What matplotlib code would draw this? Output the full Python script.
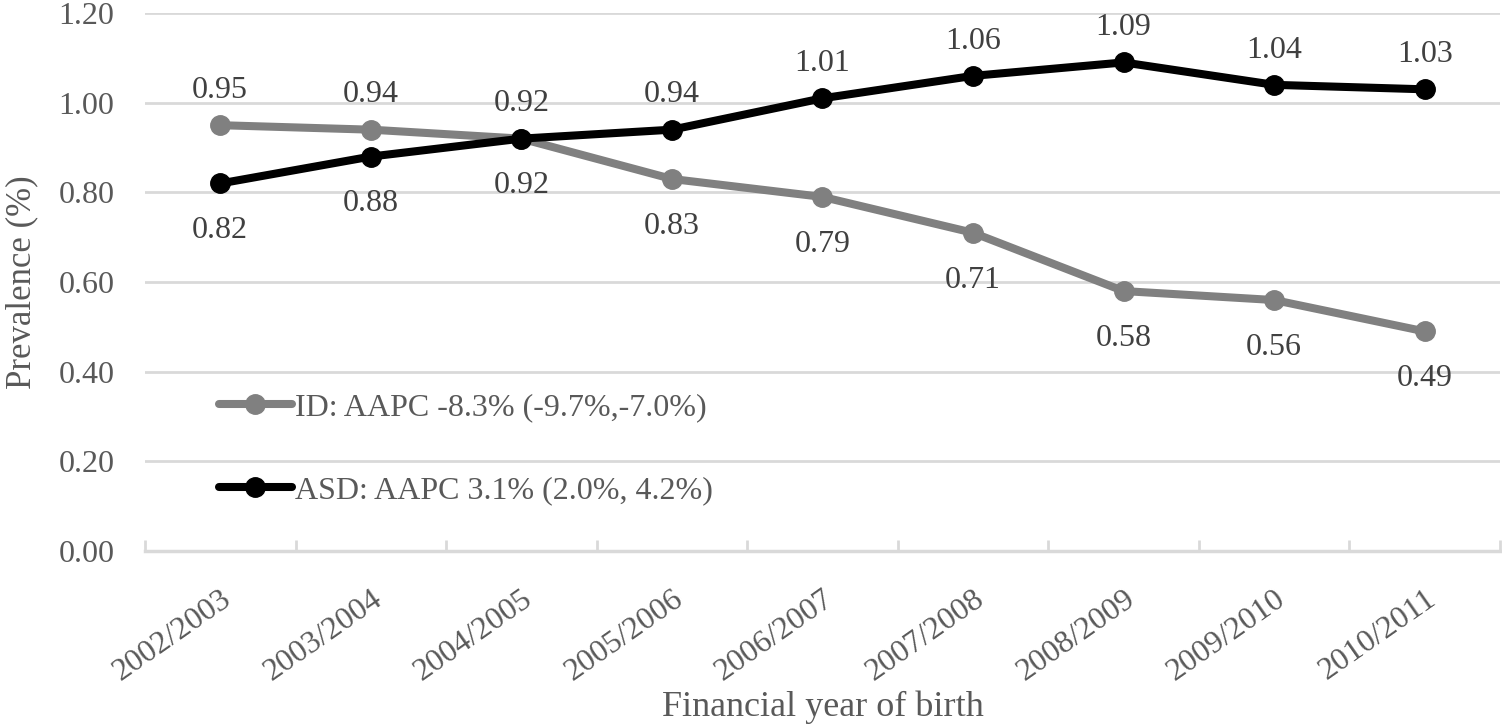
import matplotlib
matplotlib.use('Agg')
import matplotlib.pyplot as plt
import numpy as np

years = ['2002/2003', '2003/2004', '2004/2005', '2005/2006', '2006/2007',
         '2007/2008', '2008/2009', '2009/2010', '2010/2011']
id_prev = [0.95, 0.94, 0.92, 0.83, 0.79, 0.71, 0.58, 0.56, 0.49]
asd_prev = [0.82, 0.88, 0.92, 0.94, 1.01, 1.06, 1.09, 1.04, 1.03]
id_label = 'ID: AAPC -8.3% (-9.7%,-7.0%)'
asd_label = 'ASD: AAPC 3.1% (2.0%, 4.2%)'

plt.rcParams['font.family'] = ['Liberation Serif', 'DejaVu Serif']

TXT = '#595959'
GRID = '#d9d9d9'
FS = 23

fig = plt.figure(figsize=(15.02, 7.28), dpi=100)
ax = fig.add_axes([0.0965, 0.243, 0.9022, 0.739])

x = np.arange(len(years))
ax.plot(x, id_prev, color='#808080', lw=5.8, marker='o', ms=14,
        label=id_label, solid_capstyle='round', zorder=3)
ax.plot(x, asd_prev, color='black', lw=5.8, marker='o', ms=14,
        label=asd_label, solid_capstyle='round', zorder=4)

# data labels: higher series above, lower below
for i in x:
    id_up = id_prev[i] >= asd_prev[i]
    for vals, up in ((id_prev, id_up), (asd_prev, not id_up)):
        off = 25 if up else -34
        ax.annotate('%.2f' % vals[i], (i, vals[i]), xytext=(0, off),
                    textcoords='offset points', ha='center', va='center',
                    fontsize=FS, color='#404040')

ax.set_xlim(-0.5, len(years) - 0.5)
ax.set_ylim(0, 1.2)
ax.set_yticks(np.arange(0, 1.21, 0.2))
ax.set_yticklabels(['%.2f' % v for v in np.arange(0, 1.21, 0.2)])
ax.yaxis.grid(True, color=GRID, lw=2)
ax.set_axisbelow(True)
ax.tick_params(axis='y', length=0, pad=22, labelsize=FS, labelcolor=TXT)

ax.set_xticks(x)
ax.set_xticklabels(years, rotation=35, ha='right', rotation_mode='anchor')
ax.set_xticks(np.arange(-0.5, len(years)), minor=True)
ax.tick_params(axis='x', which='major', length=0, pad=24, labelsize=FS,
               labelcolor=TXT)
ax.tick_params(axis='x', which='minor', direction='in', length=8, width=2,
               color=GRID)

for s in ['top', 'right', 'left']:
    ax.spines[s].set_visible(False)
ax.spines['bottom'].set_color(GRID)
ax.spines['bottom'].set_linewidth(2.5)

ax.set_ylabel('Prevalence (%)', fontsize=25, color=TXT, va='center')
ax.yaxis.set_label_coords(-0.091, 0.5)
ax.set_xlabel('Financial year of birth', fontsize=26, color=TXT, va='center')
ax.xaxis.set_label_coords(0.5, -0.29)

leg = ax.legend(loc='lower left', bbox_to_anchor=(0.045, 0.062), frameon=False,
                fontsize=FS, labelspacing=1.67, handlelength=2.3,
                handletextpad=0.1, borderaxespad=0)
for t in leg.get_texts():
    t.set_color(TXT)

fig.savefig('out.png', dpi=100)
